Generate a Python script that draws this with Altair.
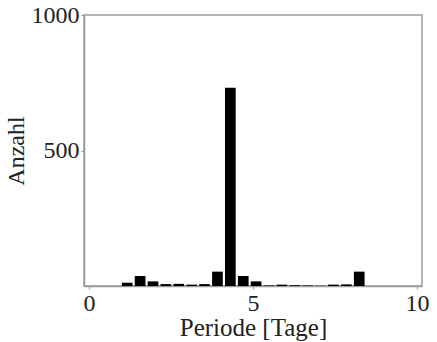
import altair as alt
import pandas as pd

centers = [1.165, 1.558, 1.951, 2.344, 2.737, 3.130, 3.523, 3.916, 4.309, 4.702,
           5.095, 5.488, 5.881, 6.274, 6.667, 7.060, 7.453, 7.846, 8.239]
counts = [12, 37, 17, 7, 8, 5, 7, 53, 732, 37, 17, 2, 5, 3, 2, 1, 5, 6, 53]
x_ticks = [0, 5, 10]
y_ticks = [500, 1000]

df = pd.DataFrame({"Periode": centers, "Anzahl": counts})

FONT = "Liberation Serif"
GRAY = "#9a9a9a"

chart = alt.Chart(df).mark_bar(color="black", size=10.7).encode(
    x=alt.X("Periode:Q", scale=alt.Scale(domain=[0, 10], nice=False),
            axis=alt.Axis(title="Periode [Tage]", values=x_ticks, grid=False, format="d",
                          labelFont=FONT, titleFont=FONT,
                          labelFontSize=24, titleFontSize=25, titleFontWeight="normal",
                          labelPadding=2, titlePadding=0)),
    y=alt.Y("Anzahl:Q", scale=alt.Scale(domain=[0, 1000], nice=False),
            axis=alt.Axis(title="Anzahl", values=y_ticks, grid=False, format="d",
                          labelFont=FONT, titleFont=FONT,
                          labelFontSize=24, titleFontSize=24, titleFontWeight="normal",
                          labelPadding=2, titlePadding=3)),
).properties(
    width=338, height=271,
    autosize=alt.AutoSizeParams(type="none"),
    padding={"left": 84, "top": 15, "right": 15, "bottom": 56},
).configure(
    font=FONT
).configure_view(
    stroke=GRAY, strokeWidth=1.5
).configure_axis(
    labelColor="#222", titleColor="#222",
    domainColor=GRAY, tickColor=GRAY, tickSize=3, domainWidth=1.5,
    labelFlush=False,
)

chart.save("out.html", embed_options={"renderer": "svg", "actions": False})
